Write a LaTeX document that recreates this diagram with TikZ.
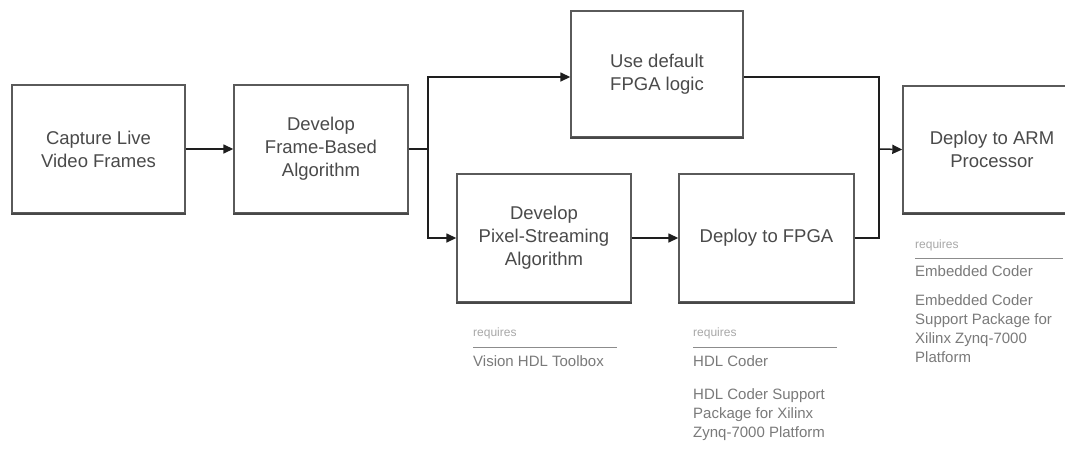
\documentclass[tikz,border=0pt]{standalone}
\usepackage{fontspec}
\setmainfont{Liberation Sans}
\usetikzlibrary{arrows.meta,calc}
\definecolor{boxline}{HTML}{5A5A5A}
\definecolor{boxtext}{HTML}{4A4A4A}
\definecolor{reqhead}{HTML}{A8A8A8}
\definecolor{reqtext}{HTML}{7A7A7A}
\definecolor{reqrule}{HTML}{8C8C8C}
\definecolor{wire}{HTML}{1E1E1E}
\tikzset{
  stepbox/.style={draw=boxline, line width=1.4pt, fill=white, align=center,
    text=boxtext, font=\fontsize{18.5}{23}\selectfont, inner sep=0pt},
  wirepath/.style={draw=wire, line width=1.5pt},
  wirearrow/.style={wirepath, -{Triangle[length=10pt,width=9pt]}},
  reqlabel/.style={anchor=west, inner sep=0pt, text=reqhead, font=\fontsize{12}{14}\selectfont},
  reqitem/.style={anchor=north west, inner sep=0pt, align=left, text=reqtext,
    font=\fontsize{15}{19}\selectfont},
  reqline/.style={draw=reqrule, line width=1pt}
}
\newcommand{\shadowedge}[1]{%
  \draw[line width=2.2pt, draw=boxline!80!black] (#1.south west) -- (#1.south east);}
\begin{document}
\begin{tikzpicture}[x=1pt,y=-1pt]
\useasboundingbox[fill=white] (0,0) rectangle (1065,448);

% process steps
\node[stepbox, minimum width=173pt, minimum height=128pt] (capture) at (98.5,149) {Capture Live\\Video Frames};
\node[stepbox, minimum width=174pt, minimum height=128pt] (frame) at (321,149) {Develop\\Frame-Based\\Algorithm};
\node[stepbox, minimum width=172pt, minimum height=126pt] (default) at (657,74) {Use default\\FPGA logic};
\node[stepbox, minimum width=174pt, minimum height=128pt] (pixel) at (544,238) {Develop\\Pixel-Streaming\\Algorithm};
\node[stepbox, minimum width=175pt, minimum height=128pt] (fpga) at (766.5,238) {Deploy to FPGA};
\node[stepbox, minimum width=178pt, minimum height=127pt] (arm) at (992,149.5) {Deploy to ARM\\Processor};
\foreach \b in {capture,frame,default,pixel,fpga,arm} {\shadowedge{\b}}

% connectors
\coordinate (split) at (428,149);
\coordinate (merge) at (879,149);
\draw[wirearrow] (capture.east) -- (frame.west);
\draw[wirepath] (frame.east) -- (split);
\draw[wirearrow] (split) |- ([yshift=-3pt]default.west);
\draw[wirearrow] (split) |- (pixel.west);
\draw[wirearrow] (pixel.east) -- (fpga.west);
\draw[wirepath] ([yshift=-3pt]default.east) -| (merge);
\draw[wirepath] (fpga.east) -| (merge);
\draw[wirearrow] (merge) -- (arm.west);

% requirements under the pixel-streaming step
\node[reqlabel] (pixreq) at (473,333) {requires};
\coordinate (pixruleA) at (473,347);
\coordinate (pixruleB) at (617,347);
\draw[reqline] (pixruleA) -- (pixruleB);
\node[reqitem] (pixitem) at (473,355) {Vision HDL Toolbox};

% requirements under the FPGA deployment step
\node[reqlabel] (fpgareq) at (693,333) {requires};
\coordinate (fpgaruleA) at (693,347);
\coordinate (fpgaruleB) at (837,347);
\draw[reqline] (fpgaruleA) -- (fpgaruleB);
\node[reqitem] (fpgaitemA) at (693,355) {HDL Coder};
\node[reqitem] (fpgaitemB) at (693,388) {HDL Coder Support\\Package for Xilinx\\Zynq-7000 Platform};

% requirements under the ARM deployment step
\node[reqlabel] (armreq) at (915,245) {requires};
\coordinate (armruleA) at (915,258);
\coordinate (armruleB) at (1063,258);
\draw[reqline] (armruleA) -- (armruleB);
\node[reqitem] (armitemA) at (915,265) {Embedded Coder};
\node[reqitem] (armitemB) at (915,294) {Embedded Coder\\Support Package for\\Xilinx Zynq-7000\\Platform};
\end{tikzpicture}
\end{document}
